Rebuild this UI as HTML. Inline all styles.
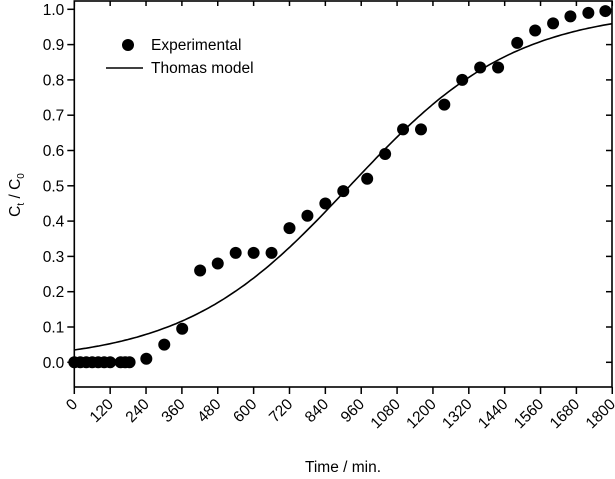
<!DOCTYPE html>
<html><head><meta charset="utf-8"><style>
body{margin:0;background:#fff}
svg{display:block;font-family:"Liberation Sans",sans-serif}
</style></head><body>
<svg id="chart" width="615" height="479">
<g id="grid"></g>
</svg>
<script>
const xTicks=[0,120,240,360,480,600,720,840,960,1080,1200,1320,1440,1560,1680,1800];
const yTicks=[0,0.1,0.2,0.3,0.4,0.5,0.6,0.7,0.8,0.9,1.0];
const expTime=[0,20,40,60,80,100,120,155,170,185,241,301,361,421,480,540,600,660,720,780,840,900,980,1040,1100,1160,1238,1298,1358,1418,1482,1542,1602,1660,1720,1777];
const expC=[0,0,0,0,0,0,0,0,0,0,0.01,0.05,0.095,0.26,0.28,0.31,0.31,0.31,0.38,0.415,0.45,0.485,0.52,0.59,0.66,0.66,0.73,0.80,0.835,0.835,0.905,0.94,0.96,0.98,0.99,0.995];
const thomasA=[3.32];
const thomasB=[0.0036];
const NS="http://www.w3.org/2000/svg";
const svg=document.getElementById('chart');
const L=74.3,R=612,T=0,B=387;
const X=t=>74.3+t*0.29887;
const Y=v=>362.3-v*353;
function mk(tag,attrs,parent){const e=document.createElementNS(NS,tag);for(const k in attrs)e.setAttribute(k,attrs[k]);(parent||svg).appendChild(e);return e;}
const fr=mk('rect',{x:L,y:1,width:R-L,height:B-1,fill:'none',stroke:'#000','stroke-width':1.6});


xTicks.forEach(t=>{
  const tk=mk('line',{x1:X(t),x2:X(t),y1:B,y2:B+7,stroke:'#000','stroke-width':1.5});
  
  
  mk('line',{x1:X(t),x2:X(t),y1:1,y2:6,stroke:'#000','stroke-width':1.5});
  const tx=mk('text',{x:X(t)+4,y:B+18,'font-size':15.5,'text-anchor':'end',transform:`rotate(-45 ${X(t)+4} ${B+18})`});
  tx.textContent=t;
  
  
});
yTicks.forEach(v=>{
  const tk=mk('line',{x1:L-7,x2:L,y1:Y(v),y2:Y(v),stroke:'#000','stroke-width':1.5});
  
  
  mk('line',{x1:R-6,x2:R,y1:Y(v),y2:Y(v),stroke:'#000','stroke-width':1.5});
  const tx=mk('text',{x:L-10,y:Y(v)+5.5,'font-size':15.5,'text-anchor':'end'});
  tx.textContent=v.toFixed(1);
  
  
});
let d='';
for(let t=0;t<=1800;t+=10){const v=1/(1+Math.exp(thomasA[0]-thomasB[0]*t));d+=(t?'L':'M')+X(t).toFixed(1)+' '+Y(v).toFixed(1);}
const cv=mk('path',{d:d,fill:'none',stroke:'#000','stroke-width':1.6});


expTime.forEach((t,i)=>{
  const c=mk('circle',{cx:X(t),cy:Y(expC[i]),r:6,fill:'#000'});
  
  
});
</script>
<svg style="position:absolute;left:0;top:0" width="615" height="479">
<g>
<circle cx="128" cy="45" r="6" fill="#000"/>
<text x="151" y="50" font-size="15.5">Experimental</text>
<line x1="106" x2="143" y1="68" y2="68" stroke="#000" stroke-width="1.6"/>
<text x="151" y="73" font-size="15.5">Thomas model</text>
</g>
<text x="343" y="472" font-size="15.5" text-anchor="middle">Time / min.</text>
<text transform="translate(20 195) rotate(-90)" font-size="15.5" text-anchor="middle">C<tspan font-size="10" dy="4">t</tspan><tspan dy="-4"> / C</tspan><tspan font-size="10" dy="4">0</tspan></text>
</svg>
</body></html>
